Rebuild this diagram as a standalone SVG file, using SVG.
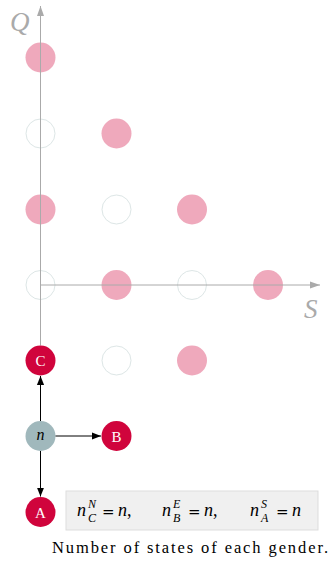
<svg xmlns="http://www.w3.org/2000/svg" width="331" height="561" viewBox="0 0 331 561">
<defs>
<style>
.pk{fill:#d0043c;fill-opacity:0.34}
.em{fill:none;stroke:#dde6e6;stroke-width:1}
.ax{stroke:#aaaaaa;stroke-width:1;fill:none}
.rd{fill:#d0043c}
.lb{font-family:"Liberation Serif","DejaVu Serif",serif;fill:#ffffff;font-size:15px;text-anchor:middle}
.ml{font-family:"Liberation Serif","DejaVu Serif",serif;font-style:italic;fill:#aaaaaa;font-size:27px}
.mi{font-family:"Liberation Serif","DejaVu Serif",serif;font-style:italic;font-size:18px;fill:#000}
.sc{font-family:"Liberation Serif","DejaVu Serif",serif;font-style:italic;font-size:12px;fill:#000}
.op{font-family:"DejaVu Serif",serif;font-size:15px;fill:#000}
.con{stroke:#000;stroke-width:1;fill:none}
</style>
<marker id="ah" viewBox="0 0 10 10" refX="10" refY="5" markerWidth="9" markerHeight="9" markerUnits="userSpaceOnUse" orient="auto">
<path d="M0,1 L10,5 L0,9 Z" fill="#000"/>
</marker>
<marker id="ag" viewBox="0 0 10 10" refX="10" refY="5" markerWidth="10" markerHeight="10" markerUnits="userSpaceOnUse" orient="auto">
<path d="M0,1.5 L10,5 L0,8.5 Z" fill="#aaaaaa"/>
</marker>
</defs>
<rect width="331" height="561" fill="#ffffff"/>
<g id="grid">
<circle class="pk" cx="40.5" cy="57.5" r="15"/>
<circle class="em" cx="40.5" cy="133.5" r="14.5"/>
<circle class="pk" cx="116.5" cy="133.5" r="15"/>
<circle class="pk" cx="40.5" cy="209.5" r="15"/>
<circle class="em" cx="116.5" cy="209.5" r="14.5"/>
<circle class="pk" cx="192" cy="209.5" r="15"/>
<circle class="em" cx="40.5" cy="285" r="14.5"/>
<circle class="pk" cx="116.5" cy="285" r="15"/>
<circle class="em" cx="192" cy="285" r="14.5"/>
<circle class="pk" cx="268" cy="285" r="15"/>
<circle class="em" cx="116.5" cy="360.5" r="14.5"/>
<circle class="pk" cx="192" cy="360.5" r="15"/>
</g>
<g id="axes">
<line class="ax" x1="40.5" y1="345.5" x2="40.5" y2="6" marker-end="url(#ag)"/>
<line class="ax" x1="40.5" y1="285" x2="320" y2="285" marker-end="url(#ag)"/>
<text class="ml" x="10" y="31">Q</text>
<text class="ml" x="304" y="318">S</text>
</g>
<g id="node-C">
<circle class="rd" cx="40.5" cy="360.5" r="15"/>
<text class="lb" x="40.5" y="366">C</text>
</g>
<g id="node-n">
<circle cx="40.5" cy="436" r="15" fill="#a0b8bc"/>
<text x="40.5" y="440" font-family="Liberation Serif,serif" font-style="italic" font-size="16" text-anchor="middle" fill="#000">n</text>
</g>
<g id="node-B">
<circle class="rd" cx="116.5" cy="436" r="15"/>
<text class="lb" x="116.5" y="441.5">B</text>
</g>
<g id="node-A">
<circle class="rd" cx="40.5" cy="512" r="15"/>
<text class="lb" x="40.5" y="517.5">A</text>
</g>
<g id="connectors">
<line class="con" x1="40.5" y1="421" x2="40.5" y2="376" marker-end="url(#ah)"/>
<line class="con" x1="55.5" y1="436" x2="101" y2="436" marker-end="url(#ah)"/>
<line class="con" x1="40.5" y1="451" x2="40.5" y2="496.5" marker-end="url(#ah)"/>
</g>
<g id="legend">
<rect x="66" y="491" width="252" height="39" fill="#f0f0f0" stroke="#dddddd" stroke-width="1"/>
<text class="mi" x="77" y="515.5">n</text>
<text class="sc" x="88" y="508">N</text>
<text class="sc" x="88" y="521.5">C</text>
<text class="op" x="102" y="517">=</text>
<text class="mi" x="118" y="515.5">n<tspan font-style="normal">,</tspan></text>
<text class="mi" x="162" y="515.5">n</text>
<text class="sc" x="173" y="508">E</text>
<text class="sc" x="173" y="521.5">B</text>
<text class="op" x="188" y="517">=</text>
<text class="mi" x="204" y="515.5">n<tspan font-style="normal">,</tspan></text>
<text class="mi" x="250" y="515.5">n</text>
<text class="sc" x="261" y="508">S</text>
<text class="sc" x="261" y="521.5">A</text>
<text class="op" x="276" y="517">=</text>
<text class="mi" x="292" y="515.5">n</text>
<text x="52" y="553" font-family="Liberation Serif,serif" font-size="16.5" fill="#000" textLength="276" lengthAdjust="spacing">Number of states of each gender.</text>
</g>
</svg>
